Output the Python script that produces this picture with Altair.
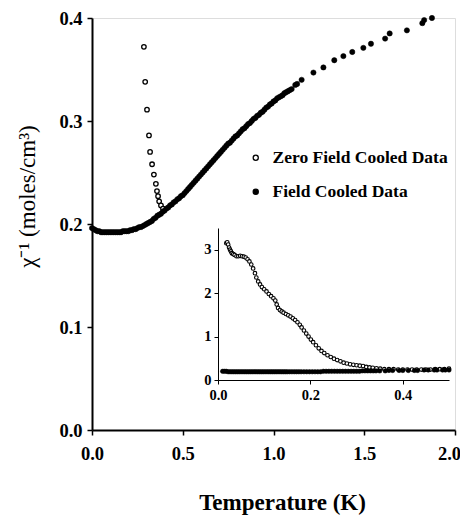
import altair as alt
import pandas as pd

ZFC_LABEL = "Zero Field Cooled Data"
FC_LABEL = "Field Cooled Data"

# ---- main panel, field cooled (filled circles)
FC_T = [0.00, 0.01, 0.02, 0.03, 0.04, 0.05, 0.06, 0.07, 0.08, 0.09, 0.10, 0.11, 0.12, 0.13,
        0.14, 0.15, 0.16, 0.17, 0.18, 0.19, 0.20, 0.21, 0.22, 0.23, 0.24, 0.25, 0.26, 0.27,
        0.28, 0.29, 0.30, 0.31, 0.32, 0.33, 0.34, 0.35, 0.36, 0.37, 0.38, 0.39, 0.40, 0.41,
        0.42, 0.43, 0.44, 0.45, 0.46, 0.47, 0.48, 0.49, 0.50, 0.51, 0.52, 0.53, 0.54, 0.55,
        0.56, 0.57, 0.58, 0.59, 0.60, 0.61, 0.62, 0.63, 0.64, 0.65, 0.66, 0.67, 0.68, 0.69,
        0.70, 0.71, 0.72, 0.73, 0.74, 0.75, 0.76, 0.77, 0.78, 0.79, 0.80, 0.81, 0.82, 0.83,
        0.84, 0.85, 0.86, 0.87, 0.88, 0.89, 0.90, 0.91, 0.92, 0.93, 0.94, 0.95, 0.96, 0.97,
        0.98, 0.99, 1.00, 1.01, 1.02, 1.03, 1.04, 1.05, 1.06, 1.07, 1.08, 1.09, 1.10,
        1.12, 1.13, 1.155, 1.22, 1.275, 1.335, 1.385, 1.434, 1.495, 1.537, 1.615, 1.64,
        1.735, 1.82, 1.83, 1.873]
FC_V = [0.196, 0.195, 0.194, 0.193, 0.193, 0.192, 0.192, 0.192, 0.192, 0.192, 0.192, 0.192, 0.192, 0.192,
        0.192, 0.192, 0.192, 0.193, 0.193, 0.193, 0.193, 0.194, 0.194, 0.195, 0.195, 0.196, 0.197, 0.197,
        0.198, 0.199, 0.200, 0.201, 0.202, 0.203, 0.205, 0.206, 0.208, 0.209, 0.210, 0.212, 0.213, 0.215,
        0.216, 0.218, 0.219, 0.221, 0.222, 0.224, 0.225, 0.227, 0.228, 0.230, 0.232, 0.234, 0.236, 0.238,
        0.240, 0.242, 0.244, 0.246, 0.248, 0.250, 0.252, 0.254, 0.256, 0.258, 0.260, 0.262, 0.264, 0.266,
        0.268, 0.270, 0.272, 0.274, 0.276, 0.278, 0.279, 0.281, 0.283, 0.285, 0.286, 0.288, 0.290, 0.292,
        0.293, 0.295, 0.297, 0.298, 0.300, 0.302, 0.303, 0.305, 0.306, 0.308, 0.309, 0.311, 0.313, 0.314,
        0.316, 0.317, 0.319, 0.320, 0.322, 0.323, 0.324, 0.325, 0.327, 0.328, 0.329, 0.330, 0.331,
        0.335, 0.336, 0.340, 0.347, 0.352, 0.359, 0.363, 0.367, 0.371, 0.375, 0.380, 0.385,
        0.388, 0.395, 0.398, 0.400]

# ---- main panel, zero field cooled (open circles)
ZFC_T = [0.286, 0.293, 0.303, 0.314, 0.320, 0.331, 0.341, 0.352, 0.358, 0.364, 0.370, 0.380, 0.391]
ZFC_V = [0.372, 0.338, 0.311, 0.286, 0.270, 0.258, 0.248, 0.239, 0.232, 0.227, 0.222, 0.218, 0.215]

# ---- inset, zero field cooled
IZ_T = [0.018, 0.020, 0.022, 0.024, 0.026, 0.028, 0.030, 0.033, 0.036, 0.040, 0.044, 0.048,
        0.052, 0.056, 0.060, 0.064, 0.068, 0.072, 0.076, 0.080, 0.083, 0.087, 0.091, 0.095,
        0.100, 0.105, 0.110, 0.115, 0.120, 0.124, 0.127, 0.130, 0.134, 0.138, 0.142, 0.147,
        0.152, 0.157, 0.162, 0.167, 0.172, 0.177, 0.181, 0.186, 0.191, 0.196, 0.201, 0.206,
        0.212, 0.218, 0.224, 0.230, 0.237, 0.244, 0.251, 0.258, 0.265, 0.272, 0.279, 0.286,
        0.293, 0.300, 0.307, 0.314, 0.321, 0.328, 0.335, 0.343, 0.351, 0.360, 0.370, 0.380,
        0.390, 0.400, 0.410, 0.420, 0.430, 0.440, 0.450, 0.460, 0.470, 0.480, 0.490, 0.500]
IZ_V = [3.15, 3.17, 3.12, 3.05, 3.00, 2.96, 2.92, 2.90, 2.88, 2.85, 2.85, 2.86,
        2.85, 2.84, 2.82, 2.78, 2.73, 2.66, 2.57, 2.46, 2.36, 2.27, 2.20, 2.14,
        2.09, 2.04, 1.98, 1.93, 1.88, 1.83, 1.74, 1.66, 1.61, 1.58, 1.55, 1.52,
        1.49, 1.46, 1.42, 1.38, 1.33, 1.27, 1.21, 1.14, 1.07, 1.00, 0.93, 0.87,
        0.80, 0.73, 0.67, 0.62, 0.57, 0.53, 0.49, 0.46, 0.43, 0.40, 0.38, 0.36,
        0.35, 0.34, 0.33, 0.32, 0.30, 0.29, 0.28, 0.27, 0.26, 0.25, 0.25, 0.25,
        0.24, 0.24, 0.24, 0.24, 0.24, 0.24, 0.24, 0.24, 0.25, 0.25, 0.25, 0.26]

# ---- inset, field cooled
IF_T = [0.010, 0.014, 0.018, 0.022, 0.026, 0.030, 0.034, 0.038, 0.042, 0.046, 0.050, 0.054,
        0.058, 0.062, 0.066, 0.070, 0.074, 0.078, 0.082, 0.086, 0.090, 0.094, 0.098, 0.102,
        0.106, 0.110, 0.114, 0.118, 0.122, 0.126, 0.130, 0.134, 0.138, 0.142, 0.146, 0.150,
        0.155, 0.160, 0.165, 0.170, 0.175, 0.180, 0.186, 0.192, 0.198, 0.204, 0.210, 0.216,
        0.222, 0.228, 0.234, 0.240, 0.246, 0.252, 0.258, 0.264, 0.270, 0.276, 0.282, 0.288,
        0.294, 0.300, 0.306, 0.312, 0.318, 0.324, 0.330, 0.336, 0.342, 0.350, 0.362, 0.370,
        0.378, 0.392, 0.400, 0.412, 0.425, 0.432, 0.446, 0.455, 0.468, 0.474, 0.486, 0.492, 0.500]
IF_V = [0.20, 0.20, 0.20, 0.19, 0.19, 0.19, 0.19, 0.19, 0.19, 0.19, 0.19, 0.19,
        0.19, 0.19, 0.19, 0.19, 0.19, 0.19, 0.19, 0.19, 0.19, 0.19, 0.19, 0.19,
        0.19, 0.19, 0.19, 0.19, 0.19, 0.19, 0.19, 0.19, 0.19, 0.19, 0.19, 0.19,
        0.19, 0.19, 0.19, 0.19, 0.19, 0.19, 0.19, 0.19, 0.19, 0.19, 0.19, 0.19,
        0.19, 0.20, 0.20, 0.20, 0.20, 0.20, 0.20, 0.20, 0.20, 0.20, 0.20, 0.20,
        0.20, 0.20, 0.20, 0.21, 0.21, 0.21, 0.21, 0.21, 0.21, 0.21, 0.21, 0.22,
        0.22, 0.22, 0.22, 0.22, 0.22, 0.22, 0.23, 0.23, 0.23, 0.23, 0.23, 0.23, 0.23]

main_fc = pd.DataFrame({"T": FC_T, "v": FC_V, "series": FC_LABEL})
main_zfc = pd.DataFrame({"T": ZFC_T, "v": ZFC_V, "series": ZFC_LABEL})
ins_zfc = pd.DataFrame({"T": IZ_T, "v": IZ_V, "series": ZFC_LABEL})
ins_fc = pd.DataFrame({"T": IF_T, "v": IF_V, "series": FC_LABEL})

SERIF = "Liberation Serif"
W, H = 363, 412

common_axis = dict(labelFont=SERIF, titleFont=SERIF, labelColor="black", titleColor="black",
                   domainColor="black", tickColor="black", grid=False, labelFlush=False,
                   labelOverlap=False)

fill_scale = alt.Scale(domain=[ZFC_LABEL, FC_LABEL], range=["white", "black"])
legend = alt.Legend(
    title=None, orient="none", legendX=155, legendY=131,
    labelFont=SERIF, labelFontSize=17.5, labelFontWeight="bold", labelColor="black",
    labelLimit=0,
    symbolType="circle", symbolSize=26, symbolStrokeColor="black", symbolStrokeWidth=1.3,
    rowPadding=15, labelOffset=8,
)

mx = alt.X("T:Q", scale=alt.Scale(domain=[0, 2], nice=False),
           axis=alt.Axis(title="Temperature (K)", values=[0, 0.5, 1, 1.5, 2], format=".1f",
                         titleX=190, titleY=72, titleBaseline="middle",
                         titleFontSize=23, titleFontWeight="bold",
                         labelFontSize=18.5, labelFontWeight="bold",
                         labelOffset={"condition": {"test": "datum.value == 2", "value": -6}, "value": 0},
                         domainWidth=2, tickWidth=1.5, tickSize=5, labelPadding=9, **common_axis))
my = alt.Y("v:Q", scale=alt.Scale(domain=[0, 0.4], nice=False),
           axis=alt.Axis(title="χ⁻¹   (moles/cm³)", values=[0, 0.1, 0.2, 0.3, 0.4], format=".1f",
                         titleX=-65, titleY=178, titleAlign="center", titleBaseline="middle",
                         titleAngle=270, titleFontSize=23, titleFontWeight="normal",
                         labelFontSize=18.5, labelFontWeight="bold",
                         domainWidth=2, tickWidth=1.5, tickSize=5, labelPadding=5, **common_axis))

fill_enc = alt.Fill("series:N", scale=fill_scale, legend=legend)

pt = dict(filled=True, stroke="black", opacity=1)

l_zfc = alt.Chart(main_zfc).mark_point(size=20, strokeWidth=1.3, **pt).encode(x=mx, y=my, fill=fill_enc)
l_fc = alt.Chart(main_fc).mark_point(size=28, strokeWidth=0.5, **pt).encode(x=mx, y=my, fill=fill_enc)
main = alt.layer(l_zfc, l_fc)

ix = alt.X("T:Q", scale=alt.Scale(domain=[0, 0.5], nice=False, range=[126, 357]),
           axis=alt.Axis(title=None, orient="bottom", offset=-50, values=[0, 0.2, 0.4], format=".1f",
                         labelFontSize=14.5, labelFontWeight="bold", domainWidth=1,
                         tickWidth=1, tickSize=4, labelPadding=4, **common_axis))
iy = alt.Y("v:Q", scale=alt.Scale(domain=[0, 3.5], nice=False, range=[362, 210]),
           axis=alt.Axis(title=None, orient="left", offset=-126, values=[0, 1, 2, 3], format="d",
                         labelFontSize=14.5, labelFontWeight="bold", domainWidth=1,
                         tickWidth=1, tickSize=4, labelPadding=3, **common_axis))

i_zfc = alt.Chart(ins_zfc).mark_point(size=13, strokeWidth=1.1, **pt).encode(x=ix, y=iy, fill=fill_enc)
i_fc = alt.Chart(ins_fc).mark_point(size=20, strokeWidth=0.5, **pt).encode(x=ix, y=iy, fill=fill_enc)
inset = alt.layer(i_zfc, i_fc)

chart = (
    alt.layer(main, inset)
    .resolve_scale(x="independent", y="independent")
    .properties(width=W, height=H, autosize="none",
                padding={"left": 84, "top": 10, "right": 5, "bottom": 85})
    .configure_view(stroke="black", strokeWidth=2)
    .configure(background="white")
)

chart.save("out.html", embed_options={"renderer": "svg", "actions": False})
